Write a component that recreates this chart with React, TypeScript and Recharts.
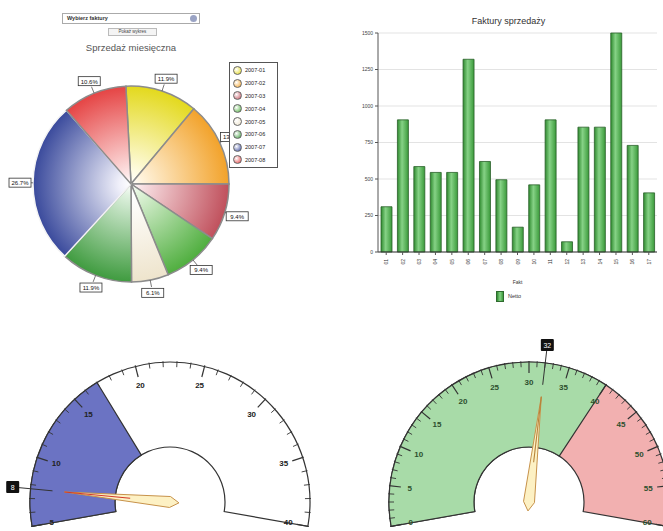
import React from "react";
import {
  PieChart,
  Pie,
  Cell,
  Legend,
  BarChart,
  Bar,
  XAxis,
  YAxis,
  CartesianGrid,
  RadialBarChart,
  RadialBar,
  PolarAngleAxis,
} from "recharts";

// ---- pie: monthly sales share ----
const months = ["2007-01", "2007-02", "2007-03", "2007-04", "2007-05", "2007-06", "2007-07", "2007-08"];
const monthShare = [11.9, 13.9, 9.4, 9.4, 6.1, 11.9, 26.7, 10.6];
const sliceColors = ["#e3d91c", "#f2a22a", "#c0505c", "#4fae3e", "#eee4cc", "#3f9b3f", "#3a4a9c", "#e54444"];
const sliceLights = ["#fffce6", "#fff3dc", "#f8e0e3", "#e2f4dc", "#ffffff", "#dff1df", "#f0f0fa", "#fde4e4"];

// ---- bars: invoices ----
const invoiceLabels = ["01", "02", "03", "04", "05", "06", "07", "08", "09", "10", "11", "12", "13", "14", "15", "16", "17"];
const invoiceNet = [310, 905, 585, 545, 545, 1320, 620, 495, 170, 460, 905, 70, 855, 855, 1500, 730, 405];
const netTicks = [0, 250, 500, 750, 1000, 1250, 1500];

// ---- gauges ----
const leftMajor = [5, 10, 15, 20, 25, 30, 35, 40];
const leftBandEnd = [17];
const leftNeedle = 7.7;
const rightMajor = [0, 5, 10, 15, 20, 25, 30, 35, 40, 45, 50, 55, 60];
const rightBandEnd = [40];
const rightNeedle = 32;

const pieData = months.map((m, i) => ({ name: m, value: monthShare[i] }));
const barData = invoiceLabels.map((n, i) => ({ name: n, netto: invoiceNet[i] }));

const RAD = Math.PI / 180;
const polar = (cx: number, cy: number, r: number, a: number) => ({
  x: cx + r * Math.cos(-a * RAD),
  y: cy + r * Math.sin(-a * RAD),
});

const PIE_CX = 131;
const PIE_CY = 184;
const PIE_R = 98;

const renderShare = (props: any) => {
  const { cx, cy, midAngle, outerRadius, percent } = props;
  const p0 = polar(cx, cy, outerRadius, midAngle);
  const p1 = polar(cx, cy, outerRadius + 7, midAngle);
  const c = polar(cx, cy, outerRadius + 13, midAngle);
  const txt = (percent * 100).toFixed(1) + "%";
  return (
    <g>
      <line x1={p0.x} y1={p0.y} x2={p1.x} y2={p1.y} stroke="#555" strokeWidth={0.8} />
      <rect x={c.x - 11} y={c.y - 4.5} width={22} height={9} fill="#fff" stroke="#333" strokeWidth={0.8} />
      <text x={c.x} y={c.y + 0.5} textAnchor="middle" dominantBaseline="central" fontSize={6} fill="#111">
        {txt}
      </text>
    </g>
  );
};

const MonthLegend = () => (
  <div style={{ border: "1px solid #555", background: "#fff", padding: "1px 3px", boxSizing: "border-box", width: 49 }}>
    {months.map((m, i) => (
      <div key={m} style={{ display: "flex", alignItems: "center", height: 12.8, fontSize: 5.5, color: "#222" }}>
        <span
          style={{
            display: "inline-block",
            width: 7,
            height: 7,
            borderRadius: "50%",
            border: "1px solid #666",
            background: `radial-gradient(circle at 35% 35%, #fff, ${sliceColors[i]})`,
            marginRight: 3,
          }}
        />
        {m}
      </div>
    ))}
  </div>
);

const NettoLegend = () => (
  <div style={{ display: "flex", justifyContent: "center", alignItems: "center", height: 16, paddingLeft: 30, fontSize: 5.5, color: "#333" }}>
    <span style={{ display: "inline-block", width: 6, height: 9, background: "linear-gradient(90deg,#2f8a2f,#86d286,#3a9a3a)", border: "1px solid #2f6a2f", marginRight: 4 }} />
    Netto
  </div>
);

const renderInvoiceTick = (props: any) => {
  const { x, y, payload } = props;
  const yy = y + 2;
  return (
    <text x={x} y={yy} transform={`rotate(-90 ${x} ${yy})`} textAnchor="end" dominantBaseline="central" fontSize={5} fill="#333">
      {payload.value}
    </text>
  );
};

const G_CY = 192;
const G_R = 140;
const G_IR = 55;

const makeGaugeTick = (cx: number, cy: number, major: number[], color: string) => (props: any) => {
  const { payload } = props;
  const a = payload.coordinate;
  const isMajor = major.includes(payload.value);
  const p1 = polar(cx, cy, G_R + 1, a);
  const p2 = polar(cx, cy, G_R - (isMajor ? 11 : 5), a);
  const pl = polar(cx, cy, G_R - 20, a);
  return (
    <g>
      <line x1={p1.x} y1={p1.y} x2={p2.x} y2={p2.y} stroke="#333" strokeWidth={isMajor ? 1.2 : 0.9} />
      {isMajor && (
        <text x={pl.x} y={pl.y} textAnchor="middle" dominantBaseline="central" fontSize={8} fontWeight="bold" fill={color}>
          {payload.value}
        </text>
      )}
    </g>
  );
};

const makeNeedle = (label: string, tipColor: string) => (props: any) => {
  if (props.index !== 0) return <g />;
  const { cx, cy, endAngle } = props;
  const a = endAngle;
  const tip = polar(cx, cy, 106, a);
  const tailC = polar(cx, cy, -9, a);
  const s1 = polar(cx, cy, 5.5, a + 90);
  const s2 = polar(cx, cy, 5.5, a - 90);
  const mid = polar(cx, cy, 40, a);
  const redEnd = polar(mid.x - cx + cx, mid.y, 0, a);
  const l1 = polar(cx, cy, G_R - 22, a);
  const l2 = polar(cx, cy, G_R + 12, a);
  const box = polar(cx, cy, G_R + 18, a);
  return (
    <g>
      <line x1={l1.x} y1={l1.y} x2={l2.x} y2={l2.y} stroke="#333" strokeWidth={1} />
      <polygon
        points={`${tip.x},${tip.y} ${s1.x},${s1.y} ${tailC.x},${tailC.y} ${s2.x},${s2.y}`}
        fill="#fdf1c4"
        stroke="#c7924a"
        strokeWidth={1}
      />
      <line x1={tip.x} y1={tip.y} x2={redEnd.x} y2={redEnd.y} stroke={tipColor} strokeWidth={1.1} />
      <rect x={box.x - 6.5} y={box.y - 6} width={13} height={12} rx={1} fill="#111" />
      <text x={box.x} y={box.y + 0.5} textAnchor="middle" dominantBaseline="central" fontSize={7} fill="#fff">
        {label}
      </text>
    </g>
  );
};

const Gauge = ({
  left,
  width,
  cx,
  min,
  max,
  major,
  band,
  bandColor,
  restColor,
  needle,
  labelColor,
  tipColor,
}: any) => {
  const allTicks: number[] = [];
  for (let t = min; t <= max; t++) allTicks.push(t);
  const bandData = [{ name: "band", value: band[0] }];
  const needleData = [
    { name: "value", value: needle - min },
    { name: "rest", value: max - needle },
  ];
  return (
    <>
      <div style={{ position: "absolute", left, top: 310 }}>
        <RadialBarChart
          width={width}
          height={221}
          data={bandData}
          cx={cx}
          cy={G_CY}
          innerRadius={G_IR}
          outerRadius={G_R}
          startAngle={190}
          endAngle={-10}
          barCategoryGap={0}
          margin={{ top: 0, right: 0, bottom: 0, left: 0 }}
        >
          <PolarAngleAxis
            type="number"
            domain={[min, max]}
            ticks={allTicks}
            tick={makeGaugeTick(cx, G_CY, major, labelColor)}
            tickLine={false}
            axisLine={false}
          />
          <RadialBar
            dataKey="value"
            fill={bandColor}
            stroke="#333"
            strokeWidth={1.2}
            background={{ fill: restColor, stroke: "#333", strokeWidth: 1.2 }}
            isAnimationActive={false}
          />
        </RadialBarChart>
      </div>
      <div style={{ position: "absolute", left, top: 310 }}>
        <PieChart width={width} height={221} margin={{ top: 0, right: 0, bottom: 0, left: 0 }}>
          <Pie
            data={needleData}
            dataKey="value"
            cx={cx}
            cy={G_CY}
            innerRadius={0}
            outerRadius={G_R}
            startAngle={190}
            endAngle={-10}
            fill="transparent"
            stroke="none"
            label={makeNeedle(String(Math.round(needle)), tipColor)}
            labelLine={false}
            isAnimationActive={false}
          />
        </PieChart>
      </div>
    </>
  );
};

export default function App() {
  return (
    <div
      style={{
        position: "absolute",
        left: 0,
        top: 0,
        width: 663,
        height: 531,
        overflow: "hidden",
        background: "#fff",
        fontFamily: "'Liberation Sans', Arial, sans-serif",
      }}
    >
      {/* selector + button */}
      <div
        style={{
          position: "absolute",
          left: 62,
          top: 13,
          width: 138,
          height: 11,
          border: "1px solid #aaa",
          boxSizing: "border-box",
          fontSize: 5.5,
          fontWeight: "bold",
          color: "#333",
          lineHeight: "9px",
          paddingLeft: 4,
        }}
      >
        Wybierz faktury
        <span
          style={{
            position: "absolute",
            right: 2,
            top: 1,
            width: 7,
            height: 7,
            borderRadius: "50%",
            background: "#9aa3c4",
          }}
        />
      </div>
      <div
        style={{
          position: "absolute",
          left: 108,
          top: 28,
          width: 49,
          height: 8,
          border: "1px solid #bbb",
          boxSizing: "border-box",
          fontSize: 4.5,
          color: "#444",
          textAlign: "center",
          lineHeight: "6px",
          background: "#f4f4f4",
        }}
      >
        Pokaż wykres
      </div>
      <div style={{ position: "absolute", left: 31, top: 42, width: 200, textAlign: "center", fontSize: 9.5, color: "#555" }}>
        Sprzedaż miesięczna
      </div>

      <div style={{ position: "absolute", left: 0, top: 0 }}>
        <PieChart width={330} height={310} margin={{ top: 0, right: 0, bottom: 0, left: 0 }}>
          <defs>
            {sliceColors.map((c, i) => (
              <radialGradient key={c + i} id={`slice${i}`} gradientUnits="userSpaceOnUse" cx={PIE_CX} cy={PIE_CY} r={PIE_R}>
                <stop offset="0%" stopColor="#ffffff" />
                <stop offset="12%" stopColor={sliceLights[i]} />
                <stop offset="100%" stopColor={c} />
              </radialGradient>
            ))}
          </defs>
          <Pie
            data={pieData}
            dataKey="value"
            nameKey="name"
            cx={PIE_CX}
            cy={PIE_CY}
            outerRadius={PIE_R}
            startAngle={93}
            endAngle={-267}
            stroke="#8c8c8c"
            strokeWidth={1.5}
            label={renderShare}
            labelLine={false}
            isAnimationActive={false}
          >
            {pieData.map((d, i) => (
              <Cell key={d.name} fill={`url(#slice${i})`} stroke={i === 6 ? "#f4f4f4" : "#8c8c8c"} />
            ))}
          </Pie>
          <Legend
            layout="vertical"
            align="right"
            verticalAlign="top"
            content={() => <MonthLegend />}
            wrapperStyle={{ left: 229, top: 62, right: "auto", bottom: "auto", width: 49 }}
          />
        </PieChart>
      </div>

      <div style={{ position: "absolute", left: 470, top: 16, width: 77, textAlign: "center", fontSize: 9, color: "#333" }}>
        Faktury sprzedaży
      </div>
      <div style={{ position: "absolute", left: 330, top: 0 }}>
        <BarChart width={333} height={310} data={barData} margin={{ top: 33, right: 6, left: 0, bottom: 6 }}>
          <defs>
            <linearGradient id="barGreen" x1="0" y1="0" x2="1" y2="0">
              <stop offset="0%" stopColor="#2f8a2f" />
              <stop offset="42%" stopColor="#86d286" />
              <stop offset="100%" stopColor="#3a9a3a" />
            </linearGradient>
          </defs>
          <CartesianGrid vertical={false} stroke="#e3e3e3" />
          <XAxis
            dataKey="name"
            interval={0}
            height={36}
            tick={renderInvoiceTick}
            tickSize={3}
            tickLine={{ stroke: "#555" }}
            axisLine={{ stroke: "#333" }}
            label={{ value: "Fakt", position: "insideBottom", offset: 4, fontSize: 5, fill: "#333" }}
          />
          <YAxis
            width={48}
            domain={[0, 1500]}
            ticks={netTicks}
            interval={0}
            tickSize={3}
            tick={{ fontSize: 5, fill: "#444" }}
            tickLine={{ stroke: "#555" }}
            axisLine={{ stroke: "#555" }}
          />
          <Bar dataKey="netto" name="Netto" barSize={11} fill="url(#barGreen)" stroke="#2a5f2a" strokeWidth={0.8} isAnimationActive={false} />
          <Legend verticalAlign="bottom" content={() => <NettoLegend />} />
        </BarChart>
      </div>

      <Gauge
        left={0}
        width={330}
        cx={170}
        min={5}
        max={40}
        major={leftMajor}
        band={leftBandEnd}
        bandColor="#6b73c3"
        restColor="#ffffff"
        needle={leftNeedle}
        labelColor="#222"
        tipColor="#d23a2a"
      />
      <Gauge
        left={330}
        width={333}
        cx={199}
        min={0}
        max={60}
        major={rightMajor}
        band={rightBandEnd}
        bandColor="#a8dba8"
        restColor="#f2b0b0"
        needle={rightNeedle}
        labelColor="#2d4f2d"
        tipColor="#b5823a"
      />
    </div>
  );
}
